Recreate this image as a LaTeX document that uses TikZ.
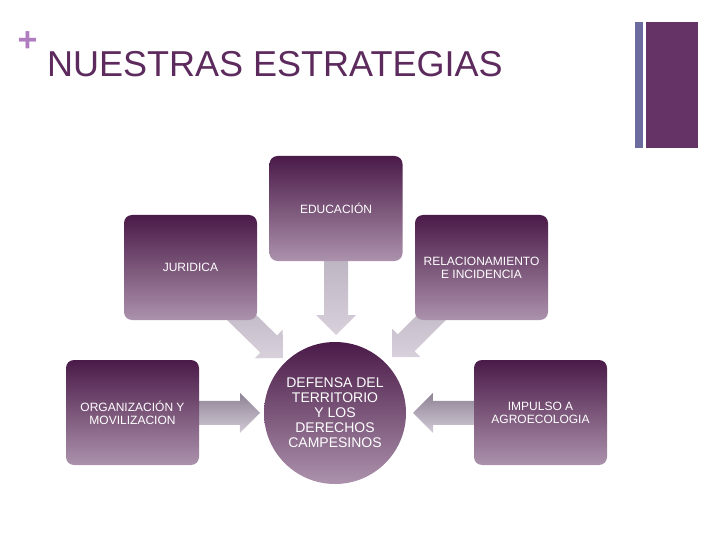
\documentclass[tikz,border=0pt]{standalone}
\usepackage{fontspec}
\setmainfont{Liberation Sans}
\usetikzlibrary{calc}
\pgfdeclarelayer{background}
\pgfsetlayers{background,main}
\definecolor{titlec}{HTML}{5C2A5C}
\definecolor{plusc}{HTML}{B07CC0}
\definecolor{barthin}{HTML}{6B6B9F}
\definecolor{barwide}{HTML}{663366}
\definecolor{boxtop}{HTML}{4A1A48}
\definecolor{boxbot}{HTML}{AC92AC}
\definecolor{arrtop}{HTML}{8E8294}
\definecolor{arrbot}{HTML}{D2CAD6}
\definecolor{darrtop}{HTML}{ABA3B1}
\definecolor{darrbot}{HTML}{D8D1DC}
\newcommand\fatarrow[4]{%
  \coordinate (H) at ($(#2)!20pt!(#1)$);
  \shade[top color=#3,bottom color=#4]
    ($(#1)!12pt!90:(#2)$) -- ($(H)!12pt!90:(#2)$) -- ($(H)!20pt!90:(#2)$) --
    (#2) -- ($(H)!20pt!-90:(#2)$) -- ($(H)!12pt!-90:(#2)$) -- ($(#1)!12pt!-90:(#2)$) -- cycle;
}
\tikzset{
  stratbox/.style={minimum width=133pt, minimum height=105pt, rounded corners=8pt,
    top color=boxtop, bottom color=boxbot, draw=none, text=white, align=center,
    inner sep=2pt, font=\fontsize{12}{13}\selectfont},
  centre/.style={circle, minimum size=142pt, inner sep=0pt,
    top color=boxtop, bottom color=boxbot, draw=none, text=white, align=center,
    font=\fontsize{14}{15}\selectfont},
}
\begin{document}
\begin{tikzpicture}[x=1pt,y=-1pt]
\useasboundingbox (0,0) rectangle (720,540);
% header
\node[text=plusc, font=\fontsize{34}{34}\selectfont\bfseries, inner sep=0] (plus) at (27.5,41.5) {+};
\node[text=titlec, anchor=base west, inner sep=0, font=\fontsize{36}{36}\selectfont] (title) at (47,77) {NUESTRAS ESTRATEGIAS};
\fill[barthin] (635,22) rectangle (643,148);
\fill[barwide] (646,22) rectangle (698,148);
% boxes
\node[stratbox] (edu) at (336,208.5) {EDUCACIÓN};
\node[stratbox] (jur) at (190.5,267.5) {JURIDICA};
\node[stratbox] (rel) at (481.5,267.5) {RELACIONAMIENTO\\E INCIDENCIA};
\node[stratbox] (org) at (132.5,412.5) {ORGANIZACIÓN Y\\MOVILIZACION};
\node[stratbox] (imp) at (540.5,412.5) {IMPULSO A\\AGROECOLOGIA};
\node[centre] (def) at (335,413) {DEFENSA DEL\\TERRITORIO\\Y LOS\\DERECHOS\\CAMPESINOS};
% arrow tips
\coordinate (tedu) at (336,335);
\coordinate (tjur) at (283,358);
\coordinate (trel) at (392,357);
\coordinate (torg) at (260,413);
\coordinate (timp) at (413,413);
\begin{pgfonlayer}{background}
\fatarrow{edu.center}{tedu}{darrtop}{darrbot}
\fatarrow{jur.center}{tjur}{darrtop}{darrbot}
\fatarrow{rel.center}{trel}{darrtop}{darrbot}
\fatarrow{org.center}{torg}{arrtop}{arrbot}
\fatarrow{imp.center}{timp}{arrtop}{arrbot}
\end{pgfonlayer}
\end{tikzpicture}
\end{document}
